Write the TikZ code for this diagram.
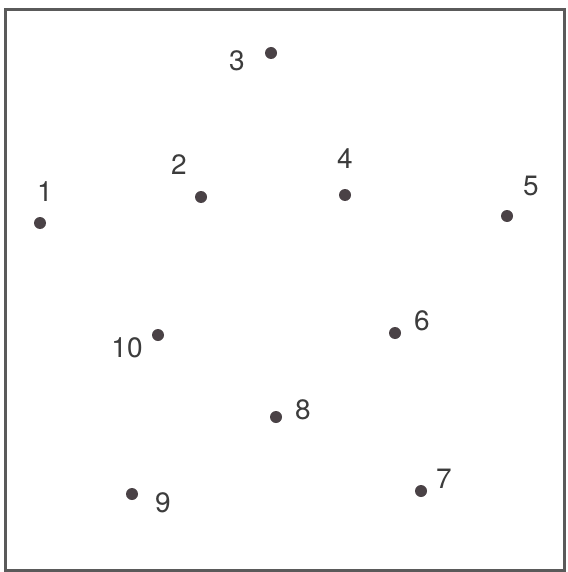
\documentclass[tikz,border=0pt]{standalone}
\usepackage{fontspec}
\setmainfont{TeX Gyre Heros}
\begin{document}
\begin{tikzpicture}[x=1pt,y=-1pt,
  pt/.style={circle,fill=dotcol,inner sep=0pt,minimum size=12pt},
  lab/.style={text=labcol,font=\fontsize{28}{28}\selectfont,inner sep=0pt}]
\definecolor{dotcol}{HTML}{4A4246}
\definecolor{labcol}{HTML}{3C3C3C}
\definecolor{framecol}{HTML}{5A5A5A}
\useasboundingbox (0,0) rectangle (567,572);
\fill[white] (0,0) rectangle (567,572);
\draw[framecol,line width=3pt] (5,10) rectangle (564,570);
\node[pt] (p1) at (40,223) {};
\node[pt] (p2) at (201,197) {};
\node[pt] (p3) at (271,53) {};
\node[pt] (p4) at (345,195) {};
\node[pt] (p5) at (507,216) {};
\node[pt] (p6) at (395,333) {};
\node[pt] (p7) at (421,491) {};
\node[pt] (p8) at (276,417) {};
\node[pt] (p9) at (132,494) {};
\node[pt] (p10) at (158,335) {};
\node[lab] (l1) at (45,192) {1};
\node[lab] (l2) at (179,165) {2};
\node[lab] (l3) at (237,61) {3};
\node[lab] (l4) at (345,159) {4};
\node[lab] (l5) at (531,186) {5};
\node[lab] (l6) at (422,321) {6};
\node[lab] (l7) at (444,479) {7};
\node[lab] (l8) at (303,410) {8};
\node[lab] (l9) at (163,503) {9};
\node[lab] (l10) at (127,348) {10};
\end{tikzpicture}
\end{document}
